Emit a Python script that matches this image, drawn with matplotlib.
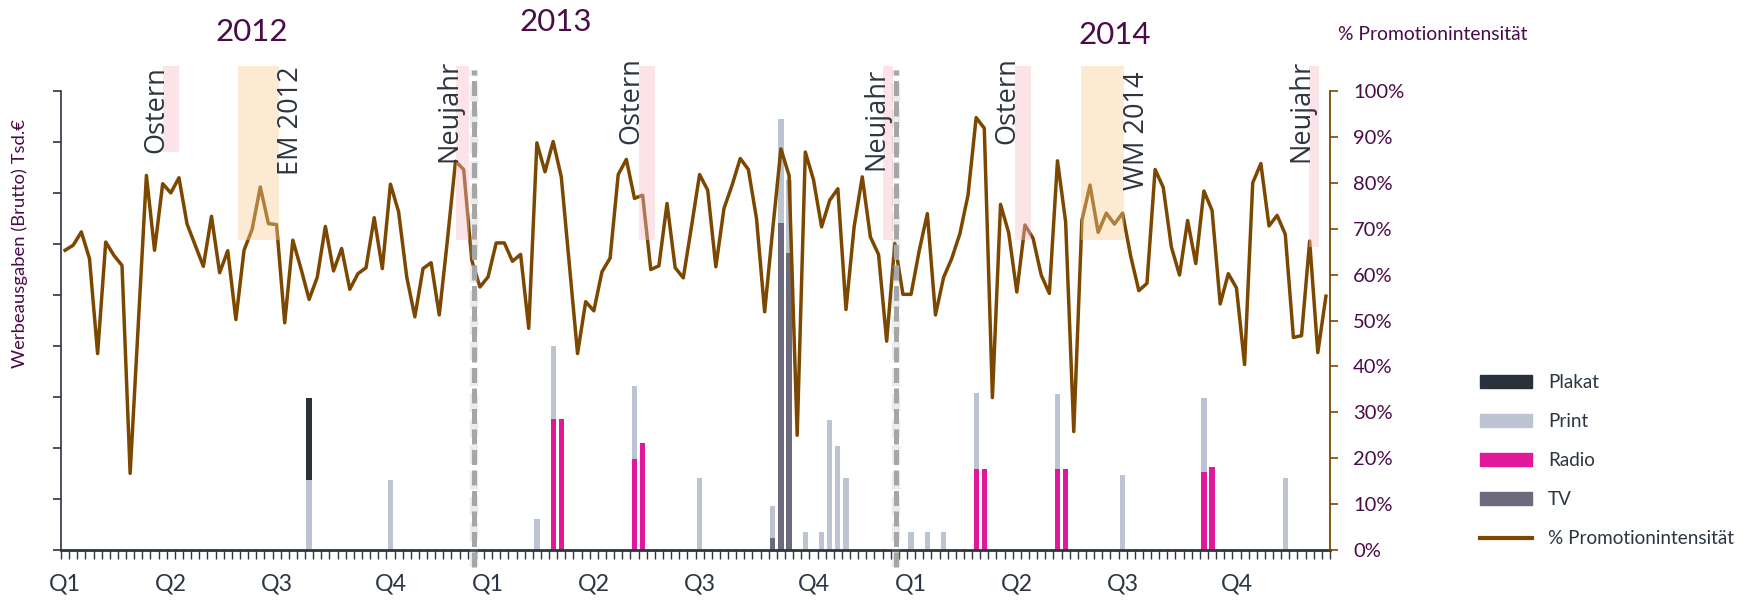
import matplotlib
matplotlib.use("Agg")
import matplotlib.pyplot as plt
import numpy as np
from matplotlib.patches import Rectangle, Patch
from matplotlib.lines import Line2D

plt.rcParams['font.family'] = ['Lato', 'DejaVu Sans']

# ---------------- data ----------------
promo = [65.3, 66.4, 69.3, 63.5, 42.8, 67.1, 64.2, 62.0, 16.7, 49.0,
         81.6, 65.3, 79.8, 77.8, 81.1, 71.0, 66.4, 61.8, 72.7, 60.4,
         65.2, 50.2, 65.3, 69.9, 79.1, 71.1, 70.9, 49.5, 67.5, 61.3,
         54.6, 59.4, 70.5, 60.8, 65.7, 56.8, 60.2, 61.5, 72.4, 61.3,
         79.7, 73.7, 59.5, 50.8, 61.3, 62.6, 51.2, 67.5, 84.7, 82.9,
         63.1, 57.3, 59.5, 66.9, 66.9, 62.9, 64.4, 48.3, 88.7, 82.4,
         89.0, 81.3, 62.0, 42.8, 54.1, 52.1, 60.6, 63.6, 81.8, 85.1,
         76.6, 77.3, 61.1, 61.9, 75.5, 61.5, 59.3, 70.4, 81.8, 78.4,
         61.7, 74.4, 79.5, 85.3, 82.9, 72.2, 51.9, 70.0, 87.4, 81.6,
         25.0, 86.7, 80.7, 70.4, 76.2, 78.7, 52.4, 70.4, 81.3, 68.2,
         64.4, 45.5, 66.8, 55.7, 55.7, 65.2, 73.3, 51.2, 59.4, 63.5,
         68.9, 77.3, 94.2, 91.9, 33.2, 75.3, 69.1, 56.2, 70.8, 67.9,
         59.9, 55.9, 84.8, 71.5, 25.8, 71.8, 79.5, 69.2, 73.4, 71.0,
         73.4, 64.0, 56.5, 58.1, 82.9, 79.0, 66.0, 59.9, 71.8, 62.4,
         78.2, 74.0, 53.6, 60.2, 57.1, 40.4, 80.0, 84.2, 70.6, 72.9,
         68.8, 46.3, 46.7, 67.3, 43.0, 55.3]

bar_weeks = [30, 40, 58, 60, 61, 70, 71, 78, 87, 88, 89, 91, 93, 94,
             95, 96, 104, 106, 108, 112, 113, 122, 123, 130, 140, 141, 150]
tv     = [0, 0, 0, 0, 0, 0, 0, 0, 0.23, 6.41, 5.82, 0, 0, 0,
          0, 0, 0, 0, 0, 0, 0, 0, 0, 0, 0, 0, 0]
radio  = [0, 0, 0, 2.56, 2.56, 1.78, 2.09, 0, 0, 0, 0, 0, 0, 0,
          0, 0, 0, 0, 0, 1.58, 1.58, 1.59, 1.59, 0, 1.52, 1.62, 0]
print_ = [1.37, 1.37, 0.60, 1.44, 0, 1.44, 0, 1.41, 0.63, 2.05, 1.43, 0.36, 0.36, 2.54,
          2.03, 1.41, 0.35, 0.35, 0.35, 1.49, 0, 1.47, 0, 1.47, 1.47, 0, 1.41]
plakat = [1.62, 0, 0, 0, 0, 0, 0, 0, 0, 0, 0, 0, 0, 0,
          0, 0, 0, 0, 0, 0, 0, 0, 0, 0, 0, 0, 0]

quarter_labels = ['Q1', 'Q2', 'Q3', 'Q4'] * 3
quarter_pos = [0, 13, 26, 40, 52, 65, 78, 92, 104, 117, 130, 144]

years = ['2012', '2013', '2014']
year_pos = [23.0, 60.3, 129.1]
year_y = [112.8, 115.0, 112.1]

events = ['Ostern', 'EM 2012', 'Neujahr', 'Ostern', 'Neujahr', 'Ostern', 'WM 2014', 'Neujahr']
ev_start = [12.1, 21.3, 48.1, 70.5, 100.6, 116.8, 124.9, 152.9]
ev_end = [14.0, 26.25, 49.6, 72.5, 101.8, 118.7, 130.2, 154.2]
ev_bottom = [86.7, 67.6, 67.6, 67.6, 67.6, 67.6, 67.6, 66.0]
ev_top = 105.5
ev_kind = ['holiday', 'sport', 'holiday', 'holiday', 'holiday', 'holiday', 'sport', 'holiday']
ev_text_y = [86.4, 81.6, 84.5, 88.4, 82.7, 88.4, 78.4, 84.5]

year_breaks = [50.3, 102.1]

# ---------------- style ----------------
c_plakat = '#29313a'
c_print = '#bcc3d1'
c_radio = '#e2189b'
c_tv = '#6e6a7d'
c_line = '#7c4800'
c_purple = '#4a0c48'
c_dark = '#2c3540'
c_pink = (250/255, 187/255, 199/255)
c_orange = (250/255, 206/255, 148/255)

W, H = 1745, 601
fig = plt.figure(figsize=(W/100, H/100), dpi=100)
ax = fig.add_axes([61/W, 51/H, 1269/W, 459/H])
ax2 = ax.twinx()

n = len(promo)
weeks = np.arange(n)
bw = 0.65

tv_a = np.array(tv); ra_a = np.array(radio); pr_a = np.array(print_); pl_a = np.array(plakat)
ax.bar(bar_weeks, tv_a, width=bw, color=c_tv, label='TV', zorder=2)
ax.bar(bar_weeks, ra_a, width=bw, bottom=tv_a, color=c_radio, label='Radio', zorder=2)
ax.bar(bar_weeks, pr_a, width=bw, bottom=tv_a + ra_a, color=c_print, label='Print', zorder=2)
ax.bar(bar_weeks, pl_a, width=bw, bottom=tv_a + ra_a + pr_a, color=c_plakat, label='Plakat', zorder=2)

ax.set_xlim(-0.5, n - 0.5)
ax.set_ylim(0, 9)
ax2.set_ylim(0, 100)

ax2.plot(weeks, promo, color=c_line, lw=2.5, zorder=2, solid_joinstyle='round')

# event shading
for s, e, b, kind in zip(ev_start, ev_end, ev_bottom, ev_kind):
    col = c_pink if kind == 'holiday' else c_orange
    ax2.add_patch(Rectangle((s, b), e - s, ev_top - b, facecolor=col, alpha=0.41,
                            edgecolor='none', zorder=3, clip_on=False))

for lbl, s, e, ty, kind in zip(events, ev_start, ev_end, ev_text_y, ev_kind):
    if kind == 'holiday':
        ax2.text(s - 0.05, ty, lbl, rotation=90, rotation_mode='anchor', ha='left',
                 va='baseline', fontsize=19.5, color=c_dark, family='Open Sans', zorder=4)
    else:
        ax2.text(e - 0.15, ty, lbl, rotation=90, rotation_mode='anchor', ha='left',
                 va='top', fontsize=19.5, color=c_dark, family='Open Sans', zorder=4)

# year breaks
for xb in year_breaks:
    ax2.plot([xb, xb], [-3.7, 104.5], color='#a8a8a8', lw=6.0, alpha=0.22,
             dashes=(2.2, 0.9), clip_on=False, zorder=4, dash_capstyle='butt')
    ax2.plot([xb, xb], [-3.7, 104.5], color='#a6a6a6', lw=3.6,
             dashes=(3, 1.1), clip_on=False, zorder=5, dash_capstyle='butt')

# year labels
for lbl, xp, yp in zip(years, year_pos, year_y):
    ax2.text(xp, yp, lbl, ha='center', va='center', fontsize=22.5, color=c_purple)

fig.text(1433/W, 1 - 35/H, '% Promotionintensität', ha='center', va='center',
         fontsize=13.9, color=c_purple)
fig.text(20/W, 1 - 244/H, 'Werbeausgaben (Brutto) Tsd.€', rotation=90, ha='center',
         va='center', fontsize=13.3, color=c_purple)

# axes styling
for sp in ['top', 'right']:
    ax.spines[sp].set_visible(False)
for sp in ['top', 'left', 'bottom']:
    ax2.spines[sp].set_visible(False)
ax.spines['left'].set_color(c_dark)
ax.spines['left'].set_linewidth(1.2)
ax.spines['bottom'].set_color(c_dark)
ax.spines['bottom'].set_linewidth(2.0)
ax2.spines['right'].set_color(c_line)
ax2.spines['right'].set_linewidth(1.3)

ax.set_yticks(range(10))
ax.set_yticklabels([])
ax.tick_params(axis='y', length=5.5, width=1.2, color=c_dark, direction='out')

ax.set_xticks(np.arange(n + 1) - 0.5, minor=True)
ax.set_xticks(quarter_pos)
ax.set_xticklabels(quarter_labels, fontsize=16.7, color=c_dark)
ax.tick_params(axis='x', which='minor', length=6.5, width=1.0, color=c_dark, direction='out')
ax.tick_params(axis='x', which='major', length=0, pad=17)

ax2.set_yticks(range(0, 101, 10))
ax2.set_yticklabels([f'{v}%' for v in range(0, 101, 10)])
ax2.tick_params(axis='y', length=5.5, width=1.2, color=c_line, labelcolor=c_purple,
                labelsize=14.5, pad=11, direction='out')

handles = [Patch(color=c_plakat), Patch(color=c_print), Patch(color=c_radio),
           Patch(color=c_tv), Line2D([], [], color=c_line, lw=3)]
labels = ['Plakat', 'Print', 'Radio', 'TV', '% Promotionintensität']
leg = fig.legend(handles, labels, loc='upper left', bbox_to_anchor=(1480/W, 1 - 374/H),
                 frameon=False, fontsize=13.6, handlelength=2.75, handleheight=0.65,
                 labelspacing=1.17, handletextpad=0.85, borderpad=0, borderaxespad=0)
for t in leg.get_texts():
    t.set_color(c_dark)

fig.savefig('out.png', dpi=100)
